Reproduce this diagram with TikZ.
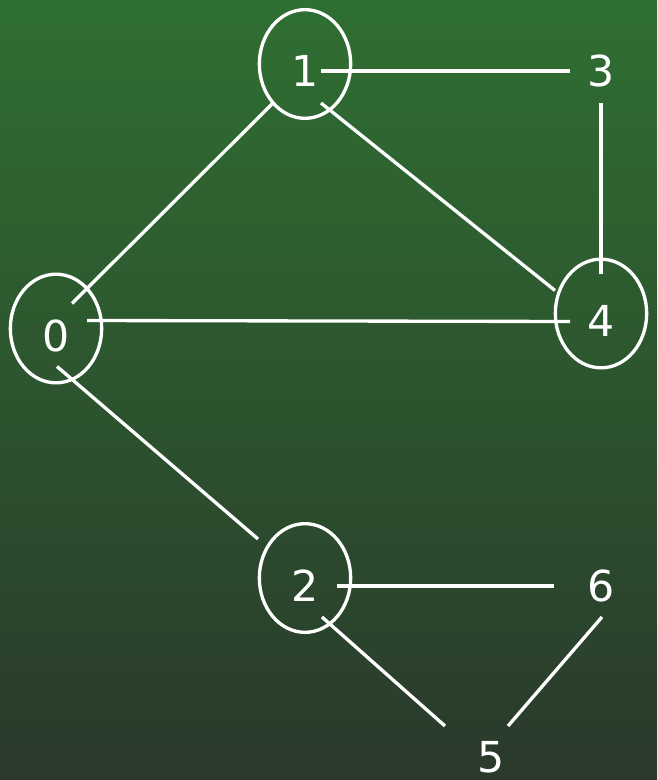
\documentclass[tikz,border=0pt]{standalone}
\usepackage{fontspec}
\setmainfont{DejaVu Sans}
\usepackage{xcolor}
\usetikzlibrary{shapes.geometric}
\definecolor{topgreen}{HTML}{2F6F32}
\definecolor{botgreen}{HTML}{2A392B}

\tikzset{
  vert/.style={text=white, font=\fontsize{32}{32}\selectfont,
    inner sep=0pt, text height=34.5pt, text depth=0pt},
  ring/.style={vert, ellipse, draw=white, line width=2.5pt,
    minimum width=68.5pt, minimum height=81.5pt},
  link/.style={draw=white, line width=2.5pt}
}

\begin{document}
\begin{tikzpicture}[x=0.75pt, y=-0.75pt]
  % background
  \shade[top color=topgreen, bottom color=botgreen] (0,0) rectangle (657,780);
  \useasboundingbox (0,0) rectangle (657,780);

  % vertices
  \node[ring] (v0) at (56,328.5) {0};
  \node[ring] (v1) at (305,64)  {1};
  \node[ring] (v2) at (305,578) {2};
  \node[vert] (v3) at (601,64)  {3};
  \node[ring] (v4) at (601,313.5) {4};
  \node[vert] (v5) at (491,749) {5};
  \node[vert] (v6) at (601,578) {6};

  % edges
  \draw[link] ([shift={(16,7)}]v1.center)   -- ([shift={(-31,7)}]v3.center);
  \draw[link] ([shift={(-32,39)}]v1.center) -- ([shift={(16,-25)}]v0.center);
  \draw[link] ([shift={(16,39)}]v1.center)  -- ([shift={(-46,-23)}]v4.center);
  \draw[link] ([shift={(0,39)}]v3.center)   -- ([shift={(0,-40)}]v4.center);
  \draw[link] ([shift={(31,-8)}]v0.center)  -- ([shift={(-31,8)}]v4.center);
  \draw[link] ([shift={(1,38)}]v0.center)   -- ([shift={(-47,-39)}]v2.center);
  \draw[link] ([shift={(32,8)}]v2.center)   -- ([shift={(-47,8)}]v6.center);
  \draw[link] ([shift={(17,39)}]v2.center)  -- ([shift={(-46,-23)}]v5.center);
  \draw[link] ([shift={(1,39)}]v6.center)   -- ([shift={(17,-23)}]v5.center);
\end{tikzpicture}
\end{document}
